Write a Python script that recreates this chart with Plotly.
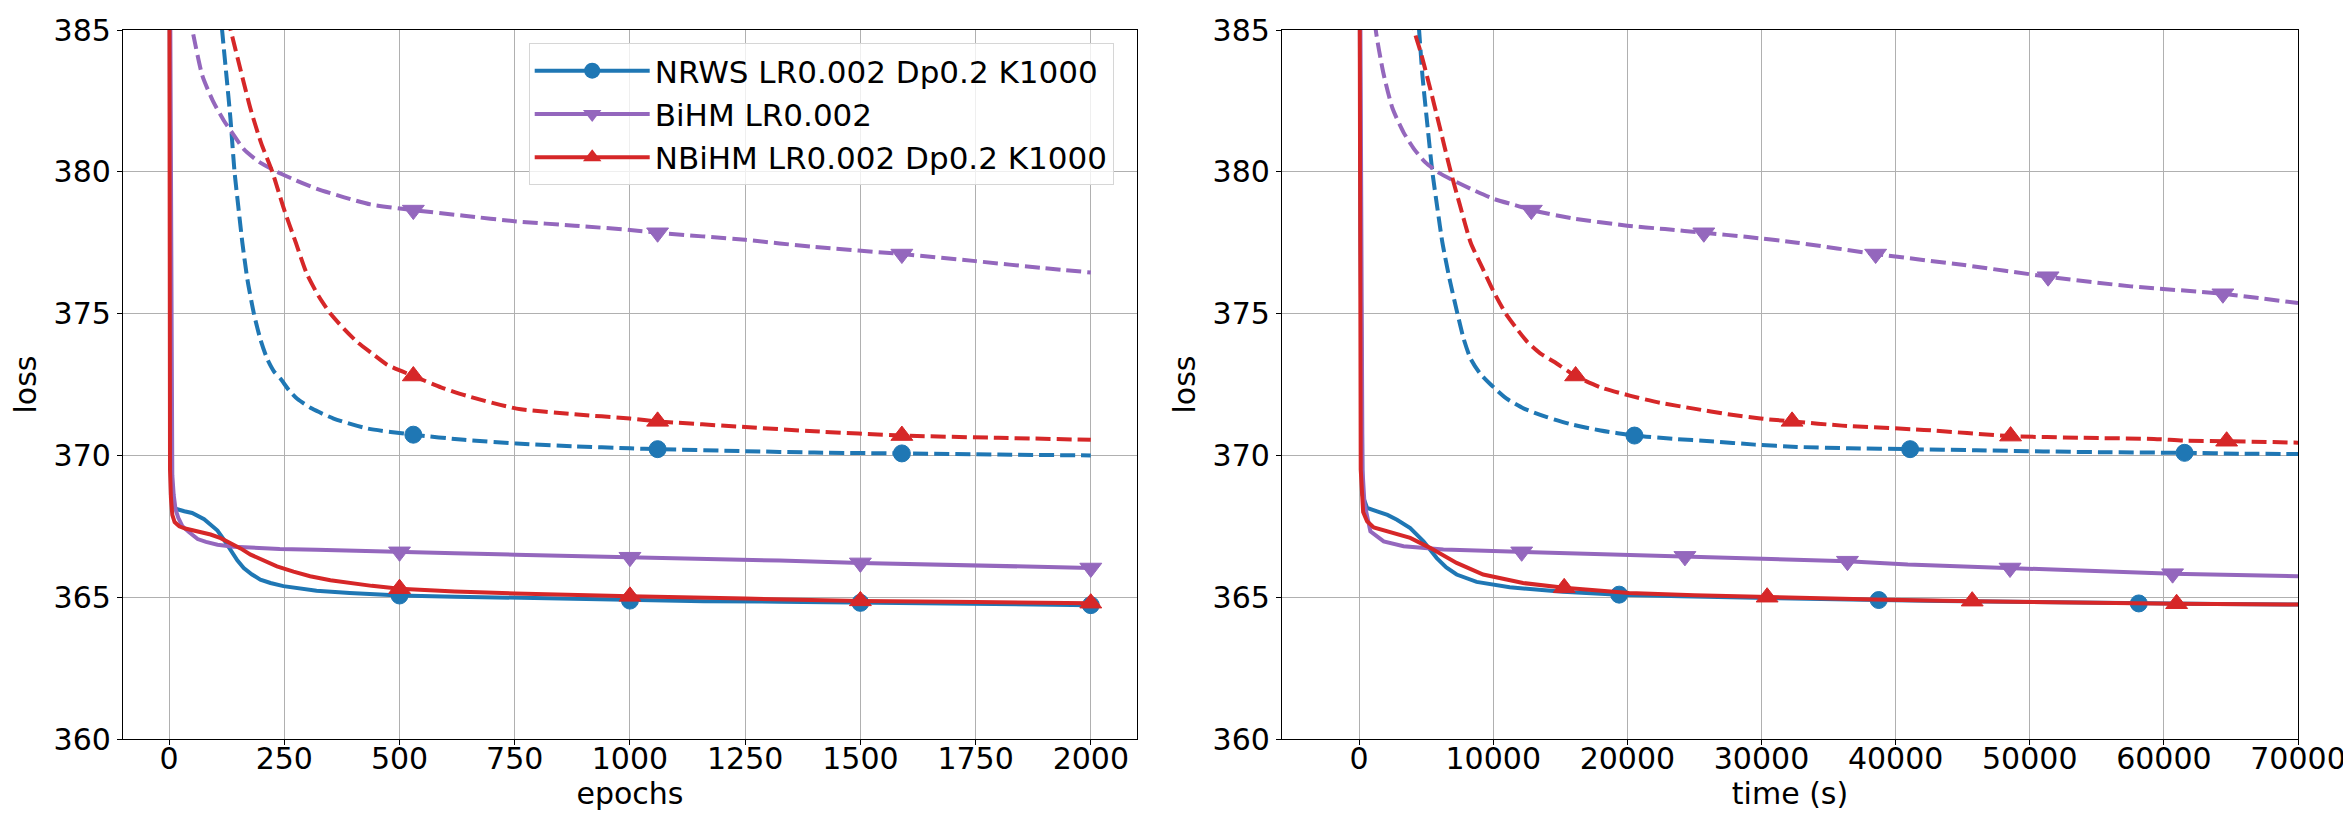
import plotly.graph_objects as go

# ---- dados: perda por época (painel esquerdo) ----
ep_nrws = [0, 2, 4, 8, 14, 33, 50, 76, 105, 120, 134, 148, 162, 180, 198, 220, 248, 285, 320, 392,
           500, 620, 751, 880, 1000, 1160, 1325, 1500, 1750, 2000]
loss_nrws = [395, 376, 368.6, 368.3, 368.12, 368.03, 367.97, 367.75, 367.35, 367.0, 366.65, 366.3, 366.03,
             365.8, 365.62, 365.5, 365.39, 365.3, 365.23, 365.15, 365.06, 365.02, 364.98, 364.93, 364.88,
             364.86, 364.84, 364.8, 364.76, 364.72]
ep_nrws_d = [100, 115, 125, 133, 142, 150, 159, 170, 184, 198, 213, 228, 242, 260, 278, 310, 357, 430,
             530, 640, 754, 880, 1000, 1060, 1250, 1400, 1590, 1800, 2000]
loss_nrws_d = [388, 385, 383.3, 381.9, 380, 378.8, 377.5, 376.2, 375, 374.1, 373.4, 372.95, 372.7, 372.3,
               372.0, 371.65, 371.3, 370.95, 370.73, 370.55, 370.42, 370.32, 370.25, 370.22, 370.15, 370.1,
               370.07, 370.03, 370.0]

ep_bihm = [0, 3, 5, 7, 10, 14, 20, 29, 43, 62, 80, 105, 140, 177, 240, 320, 400, 500, 620, 751, 880,
           1000, 1160, 1325, 1500, 1750, 2000]
loss_bihm = [395, 385, 375, 369.3, 368.6, 368.1, 367.8, 367.5, 367.3, 367.05, 366.95, 366.85, 366.78,
             366.74, 366.7, 366.67, 366.63, 366.6, 366.55, 366.5, 366.46, 366.41, 366.35, 366.29, 366.21,
             366.11, 366.03]
ep_bihm_d = [35, 50.5, 72, 95, 119, 140, 162, 195, 234, 275, 321, 380, 437, 530, 640, 754, 880, 1000,
             1060, 1250, 1400, 1590, 1750, 1900, 2000]
loss_bihm_d = [386.3, 385, 383.4, 382.5, 381.8, 381.3, 380.8, 380.35, 380, 379.7, 379.4, 379.1, 378.85,
               378.65, 378.45, 378.25, 378.1, 377.95, 377.85, 377.6, 377.35, 377.1, 376.85, 376.6, 376.45]

ep_nbihm = [0, 1, 2, 4, 7, 12, 22, 35, 47, 70, 90, 112, 134, 155, 177, 205, 234, 270, 306, 350, 392,
            440, 500, 620, 751, 880, 1000, 1250, 1500, 1750, 2000]
loss_nbihm = [395, 380, 369.5, 368.5, 367.9, 367.65, 367.5, 367.42, 367.38, 367.3, 367.21, 367.08, 366.91,
              366.72, 366.5, 366.28, 366.09, 365.9, 365.74, 365.6, 365.5, 365.4, 365.3, 365.2, 365.13,
              365.07, 365.03, 364.95, 364.87, 364.83, 364.79]
ep_nbihm_d = [115, 133.5, 155, 177, 200, 224, 249, 275, 299, 325, 350, 380, 408, 440, 473, 530, 590, 646,
              754, 880, 1000, 1060, 1250, 1400, 1590, 1800, 2000]
loss_nbihm_d = [386.2, 385, 383.6, 382.2, 381.0, 380, 378.7, 377.5, 376.4, 375.6, 375.0, 374.45, 374.0,
                373.6, 373.2, 372.8, 372.4, 372.1, 371.65, 371.45, 371.3, 371.2, 371.0, 370.85, 370.7,
                370.62, 370.55]

# marcadores (markevery) no painel de épocas
mk_ep_solid = [500, 1000, 1500, 2000]
mk_ep_dash = [530, 1060, 1590]

# ---- dados: perda por tempo (painel direito) ----
t_nrws = [0, 100, 250, 594, 1336, 2110, 2820, 3810, 4800, 5790, 6500, 7270, 8760, 11230, 15190, 19390,
          24000, 28540, 33500, 38740, 43500, 48330, 53000, 58130, 64000, 70000]
tl_nrws = [395, 378, 368.6, 368.15, 368.03, 367.9, 367.73, 367.44, 366.97, 366.38, 366.05, 365.8, 365.54,
           365.35, 365.19, 365.09, 365.03, 364.98, 364.94, 364.9, 364.87, 364.84, 364.81, 364.78, 364.76,
           364.74]
t_nrws_d = [4000, 4470, 4720, 5100, 5460, 5840, 6210, 6750, 7330, 7800, 8320, 9000, 9810, 11000, 12290,
            14000, 15770, 18000, 20530, 23500, 26200, 29500, 32650, 36500, 41080, 46000, 51000, 56000,
            61540, 66000, 70000]
tl_nrws_d = [388, 385, 383.4, 381.6, 380, 378.7, 377.5, 376.2, 375, 374.1, 373.4, 372.9, 372.5, 372.0,
             371.65, 371.35, 371.1, 370.88, 370.7, 370.58, 370.5, 370.38, 370.3, 370.25, 370.22, 370.18,
             370.14, 370.11, 370.09, 370.06, 370.05]

t_bihm = [0, 80, 150, 250, 400, 840, 1830, 3310, 6280, 9000, 12120, 18650, 24290, 31020, 36410, 40910,
          48530, 55750, 60650, 70000]
tl_bihm = [395, 385, 375, 369.5, 368.3, 367.32, 366.97, 366.8, 366.68, 366.64, 366.6, 366.5, 366.44,
           366.35, 366.27, 366.15, 366.03, 365.89, 365.83, 365.74]
t_bihm_d = [800, 1240, 1800, 2480, 3300, 4100, 4900, 5840, 7000, 8320, 10000, 11800, 12840, 16000, 19990,
            22800, 25700, 29000, 32650, 38510, 44970, 51370, 57540, 64400, 70000]
tl_bihm_d = [387.5, 385, 383.5, 382.25, 381.4, 380.8, 380.35, 380, 379.7, 379.4, 379.05, 378.8, 378.65,
             378.35, 378.1, 377.98, 377.85, 377.7, 377.5, 377.1, 376.72, 376.3, 375.96, 375.7, 375.37]

t_nbihm = [0, 50, 120, 300, 594, 1090, 2330, 3810, 5290, 7270, 9250, 12220, 15290, 20130, 25000, 30420,
           38440, 45710, 53280, 60950, 70000]
tl_nbihm = [395, 380, 369.5, 368.0, 367.68, 367.46, 367.3, 367.09, 366.74, 366.21, 365.8, 365.5, 365.33,
            365.15, 365.07, 365.0, 364.92, 364.86, 364.81, 364.77, 364.74]
t_nbihm_d = [3500, 4100, 4600, 5210, 6000, 6830, 7500, 8320, 9200, 10000, 10930, 11700, 12540, 13500,
             14530, 16140, 18000, 20240, 22500, 24950, 27500, 29920, 32280, 36000, 42110, 48570, 54000,
             59250, 61500, 64680, 70000]
tl_nbihm_d = [387, 385, 384.2, 383.1, 381.6, 380, 378.85, 377.5, 376.6, 375.8, 375.0, 374.5, 374.0,
              373.6, 373.3, 372.8, 372.4, 372.1, 371.85, 371.65, 371.45, 371.3, 371.2, 371.05, 370.9,
              370.68, 370.62, 370.58, 370.52, 370.5, 370.45]

# marcadores no painel de tempo
mk_t_nrws, mk_t_nrws_d = [19390, 38740, 58130], [20530, 41080, 61540]
mk_t_bihm, mk_t_bihm_d = [12120, 24290, 36410, 48530, 60650], [12840, 25700, 38510, 51370, 64400]
mk_t_nbihm, mk_t_nbihm_d = [15290, 30420, 45710, 60950], [16140, 32280, 48570, 64680]

names = ['NRWS LR0.002 Dp0.2 K1000', 'BiHM LR0.002', 'NBiHM LR0.002 Dp0.2 K1000']
colors = ['#1f77b4', '#9467bd', '#d62728']
symbols = ['circle', 'triangle-down', 'triangle-up']
msize = [17, 19, 19]

FONT = 'DejaVu Sans'
W, H = 2351, 816
LW = 4


def add_curve(fig, x, y, marks, i, dashed, axis):
    xa, ya = ('x', 'y') if axis == 1 else ('x2', 'y2')
    # linha
    fig.add_trace(go.Scatter(
        x=x, y=y, mode='lines', name=names[i], legendgroup=names[i], showlegend=False,
        line=dict(color=colors[i], width=LW, dash='15px,6px' if dashed else 'solid',
                  shape='spline' if dashed else 'linear', smoothing=0.6),
        xaxis=xa, yaxis=ya,
    ))
    # marcadores só nos pontos escolhidos (markevery do matplotlib)
    mx = [v for v in x if v in marks]
    my = [y[x.index(v)] for v in mx]
    fig.add_trace(go.Scatter(
        x=mx, y=my, mode='markers', name=names[i], legendgroup=names[i], showlegend=False,
        marker=dict(symbol=symbols[i], size=msize[i], color=colors[i], opacity=1,
                    line=dict(width=1, color=colors[i])),
        xaxis=xa, yaxis=ya,
    ))


fig = go.Figure()

left = [(ep_nrws, loss_nrws, ep_nrws_d, loss_nrws_d),
        (ep_bihm, loss_bihm, ep_bihm_d, loss_bihm_d),
        (ep_nbihm, loss_nbihm, ep_nbihm_d, loss_nbihm_d)]
for i, (x, y, xd, yd) in enumerate(left):
    add_curve(fig, x, y, mk_ep_solid, i, False, 1)
    add_curve(fig, xd, yd, mk_ep_dash, i, True, 1)

right = [(t_nrws, tl_nrws, mk_t_nrws, t_nrws_d, tl_nrws_d, mk_t_nrws_d),
         (t_bihm, tl_bihm, mk_t_bihm, t_bihm_d, tl_bihm_d, mk_t_bihm_d),
         (t_nbihm, tl_nbihm, mk_t_nbihm, t_nbihm_d, tl_nbihm_d, mk_t_nbihm_d)]
for i, (x, y, mk, xd, yd, mkd) in enumerate(right):
    add_curve(fig, x, y, mk, i, False, 2)
    add_curve(fig, xd, yd, mkd, i, True, 2)

# entradas da legenda (como os handles do matplotlib)
for i in range(3):
    fig.add_trace(go.Scatter(
        x=[None], y=[None], mode='lines+markers', name=names[i], legendgroup=names[i],
        line=dict(color=colors[i], width=LW),
        marker=dict(symbol=symbols[i], size=msize[i], color=colors[i]),
    ))

axis_style = dict(
    showline=True, linecolor='black', linewidth=1.3, mirror=True,
    ticks='outside', ticklen=5, tickwidth=1.3, tickcolor='black',
    showgrid=True, gridcolor='#b0b0b0', gridwidth=1.1,
    zeroline=False, automargin=False,
    tickfont=dict(family=FONT, size=30, color='black'),
)
title_font = dict(family=FONT, size=30, color='black')

# margens em px medidas na figura original
ML, MR, MT, MB = 115.3, 60.7, 22, 84.7
PW = W - ML - MR
PH = H - MT - MB
x1_dom = [0, (1129.2 - ML) / PW]
x2_dom = [(1274.3 - ML) / PW, 1]

fig.update_layout(
    width=W, height=H,
    plot_bgcolor='white', paper_bgcolor='white',
    margin=dict(l=ML, r=MR, t=MT, b=MB),
    font=dict(family=FONT, size=30, color='black'),
    xaxis=dict(axis_style, domain=x1_dom, range=[-100, 2100], tick0=0, dtick=250,
               ticklabelstandoff=-12,
               title=dict(text='epochs', font=title_font, standoff=2)),
    yaxis=dict(axis_style, domain=[0, 1], range=[360, 385], dtick=5,
               title=dict(text='loss', font=title_font, standoff=8)),
    xaxis2=dict(axis_style, domain=x2_dom, range=[-5750, 70000], anchor='y2',
                tick0=0, dtick=10000, tickformat='d', ticklabelstandoff=-12,
                title=dict(text='time (s)', font=title_font, standoff=2)),
    yaxis2=dict(axis_style, domain=[0, 1], range=[360, 385], dtick=5, anchor='x2',
                title=dict(text='loss', font=title_font, standoff=8)),
    legend=dict(
        # coordenadas "paper" = área de plotagem, sem as margens
        x=(1106 - ML) / PW, xanchor='right',
        y=(H - MB - 35) / PH, yanchor='top',
        font=dict(family=FONT, size=31, color='black'),
        bgcolor='rgba(255,255,255,0.8)',
        bordercolor='#d6d6d6', borderwidth=1,
        itemwidth=115,
        tracegroupgap=0,
    ),
)

fig.write_html("out.html")
